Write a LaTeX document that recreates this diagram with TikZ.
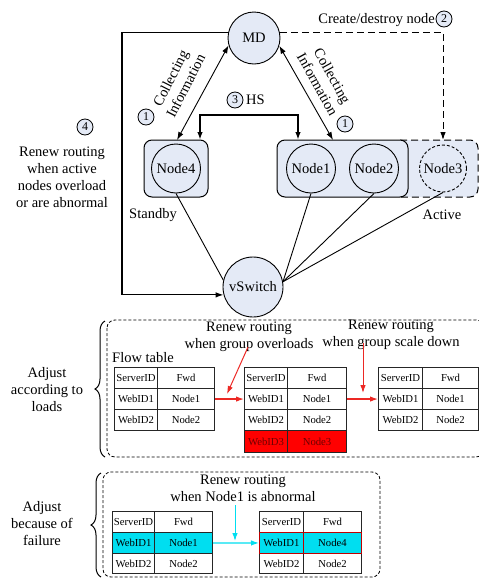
\documentclass[tikz,border=0pt]{standalone}
\usepackage{fontspec}
\setmainfont{Liberation Serif}
\usetikzlibrary{arrows.meta,decorations.pathreplacing,calc}
\definecolor{nodefill}{RGB}{228,234,246}
\definecolor{myred}{RGB}{236,40,36}
\definecolor{mycyan}{RGB}{0,222,240}
\definecolor{darkred}{RGB}{110,0,0}
\begin{document}
\begin{tikzpicture}[x=1pt,y=-1pt,
  lbl/.style={font=\fontsize{14.5}{17}\selectfont, align=center, inner sep=0pt},
  circ/.style={circle, draw, fill=nodefill, minimum size=#1, inner sep=0pt, line width=0.9pt, font=\fontsize{14.5}{17}\selectfont},
  num/.style={circle, draw, fill=nodefill, minimum size=16pt, inner sep=0pt, line width=0.8pt, font=\fontsize{12}{12}\selectfont},
  grp/.style={draw, rounded corners=8pt, fill=nodefill, line width=1pt},
  cell/.style={draw=black!85, line width=1.1pt, anchor=north west, inner sep=0pt, font=\fontsize{10.7}{11}\selectfont, minimum height=21pt},
  arr/.style={-{Latex[length=8pt,width=5.5pt]}},
  dbl/.style={{Latex[length=8pt,width=5.5pt]}-{Latex[length=8pt,width=5.5pt]}},
  longdash/.style={dash pattern=on 7pt off 4pt},
  finedash/.style={dash pattern=on 3pt off 2pt},
  ]
\useasboundingbox (0,0) rectangle (479,579);

% ---------- upper part ----------
\draw[longdash, line width=1pt, fill=nodefill, rounded corners=8pt] (400,140) -- (478,140) -- (478,197) -- (400,197);
\node[grp, minimum width=64pt, minimum height=57pt] (g4) at (176,168.5) {};
\node[grp, minimum width=131pt, minimum height=57pt] (g12) at (342.5,168.5) {};

\node[circ=52pt] (md) at (254,38) {MD};
\node[circ=60pt] (vs) at (253,287) {vSwitch};
\node[circ=49pt] (n4) at (176,168.5) {Node4};
\node[circ=49pt] (n1) at (311,168.5) {Node1};
\node[circ=49pt] (n2) at (374,168.5) {Node2};
\node[circ=47pt, dash pattern=on 3pt off 2pt] (n3) at (443,168.5) {Node3};

\draw[line width=0.9pt] (n4.south) -- (vs.167);
\draw[line width=0.9pt] (n1.south) -- (vs.10);
\draw[line width=0.9pt] (n2.south) -- (vs.10);
\draw[line width=0.9pt] (n3.south) -- (vs.10);

\coordinate (lc) at (122,160);
\draw[line width=1.2pt, arr] (md.168) -| (lc) |- (vs.195);

\coordinate (c3top) at (443,140);
\draw[line width=1pt, longdash, arr] (md.12) -| (c3top);

\coordinate (hsL) at (200,140);
\coordinate (hsR) at (298,140);
\draw[line width=2pt, dbl] (hsL) -- ++(0,-25) -| (hsR);

\coordinate (cl) at (177,140);
\coordinate (cr) at (333,140);
\draw[line width=0.9pt, dbl] (md.196) -- (cl);
\draw[line width=0.9pt, dbl] (md.-17) -- (cr);

\node[lbl, rotate=63] (ci1) at (178,82) {Collecting\\Information};
\node[lbl, rotate=-61] (ci2) at (325,80) {Collecting\\Information};

\node[num] (k1a) at (146,117) {1};
\node[num] (k1b) at (345,124) {1};
\node[num] (k2) at (444,19) {2};
\node[num] (k3) at (235,100) {3};
\node[lbl, anchor=west] (hs) at (246,100) {HS};
\node[num] (k4) at (85,127) {4};
\node[lbl, anchor=east] (cd) at (435,20) {Create/destroy node};
\node[lbl] (r4) at (62,177) {Renew routing\\when active\\nodes overload\\or are abnormal};
\node[lbl] (sb) at (153,215) {Standby};
\node[lbl] (ac) at (442,215) {Active};

% ---------- section 1 ----------
\draw[finedash, line width=0.8pt, rounded corners=8pt] (107,320) rectangle (484,457);
\draw[decorate, decoration={brace, amplitude=10pt}, line width=1pt] (105,457) -- (105,321);
\node[lbl] (adj1) at (47,390) {Adjust\\according to\\loads};
\node[lbl, anchor=west] (ft) at (112,358) {Flow table};
\node[lbl] (rr1) at (249,337) {Renew routing\\when group overloads};
\node[lbl] (rr2) at (391,335) {Renew routing\\when group scale down};

% table 1
\node[cell, minimum width=43pt] (t1a1) at (114,367) {ServerID};
\node[cell, minimum width=57pt] (t1a2) at (157,367) {Fwd};
\node[cell, minimum width=43pt] (t1b1) at (114,388) {WebID1};
\node[cell, minimum width=57pt] (t1b2) at (157,388) {Node1};
\node[cell, minimum width=43pt] (t1c1) at (114,409) {WebID2};
\node[cell, minimum width=57pt] (t1c2) at (157,409) {Node2};
% table 2
\node[cell, minimum width=43pt] (t2a1) at (244,367) {ServerID};
\node[cell, minimum width=59pt] (t2a2) at (287,367) {Fwd};
\node[cell, minimum width=43pt] (t2b1) at (244,388) {WebID1};
\node[cell, minimum width=59pt] (t2b2) at (287,388) {Node1};
\node[cell, minimum width=43pt] (t2c1) at (244,409) {WebID2};
\node[cell, minimum width=59pt] (t2c2) at (287,409) {Node2};
\node[cell, minimum width=43pt, minimum height=22pt, fill=red, text=darkred] (t2d1) at (244,430) {WebID3};
\node[cell, minimum width=59pt, minimum height=22pt, fill=red, text=darkred] (t2d2) at (287,430) {Node3};
% table 3
\node[cell, minimum width=44pt] (t3a1) at (378,367) {ServerID};
\node[cell, minimum width=56pt] (t3a2) at (422,367) {Fwd};
\node[cell, minimum width=44pt] (t3b1) at (378,388) {WebID1};
\node[cell, minimum width=56pt] (t3b2) at (422,388) {Node1};
\node[cell, minimum width=44pt] (t3c1) at (378,409) {WebID2};
\node[cell, minimum width=56pt] (t3c2) at (422,409) {Node2};

\draw[myred, line width=1.2pt, arr] (t1b2.east) -- (t2b1.west);
\draw[myred, line width=1.2pt, arr] (t2b2.east) -- (t3b1.west);
\coordinate (rd1) at (248,347);
\coordinate (rd2) at (227,394);
\draw[myred, line width=1pt, arr] (rd1) -- (rd2);
\coordinate (rv1) at (363,343);
\coordinate (rv2) at (363,393);
\draw[myred, line width=1pt, arr] (rv1) -- (rv2);

% ---------- section 2 ----------
\draw[finedash, line width=0.8pt, rounded corners=8pt] (103,472) rectangle (380,577);
\draw[decorate, decoration={brace, amplitude=10pt}, line width=1pt] (101,577) -- (101,473);
\node[lbl] (adj2) at (42,524) {Adjust\\because of\\failure};
\node[lbl] (rr3) at (243,488) {Renew routing\\when Node1 is abnormal};

% table A
\node[cell, minimum width=42pt] (tAa1) at (112,511) {ServerID};
\node[cell, minimum width=58pt] (tAa2) at (154,511) {Fwd};
\node[cell, minimum width=42pt, fill=mycyan] (tAb1) at (112,532) {WebID1};
\node[cell, minimum width=58pt, fill=mycyan] (tAb2) at (154,532) {Node1};
\node[cell, minimum width=42pt, minimum height=20pt] (tAc1) at (112,553) {WebID2};
\node[cell, minimum width=58pt, minimum height=20pt] (tAc2) at (154,553) {Node2};
% table B
\node[cell, minimum width=44pt] (tBa1) at (259,511) {ServerID};
\node[cell, minimum width=58pt] (tBa2) at (303,511) {Fwd};
\node[cell, minimum width=44pt, minimum height=20pt] (tBc1) at (259,553) {WebID2};
\node[cell, minimum width=58pt, minimum height=20pt] (tBc2) at (303,553) {Node2};
\node[cell, minimum width=44pt, fill=mycyan, draw=red!75!black, line width=0.9pt] (tBb1) at (259,532) {WebID1};
\node[cell, minimum width=58pt, fill=mycyan, draw=red!75!black, line width=0.9pt] (tBb2) at (303,532) {Node4};

\draw[mycyan, line width=1.2pt, arr] (tAb2.east) -- (tBb1.west);
\coordinate (cv1) at (235,505);
\coordinate (cv2) at (235,541);
\draw[mycyan, line width=1pt, arr] (cv1) -- (cv2);
\end{tikzpicture}
\end{document}
